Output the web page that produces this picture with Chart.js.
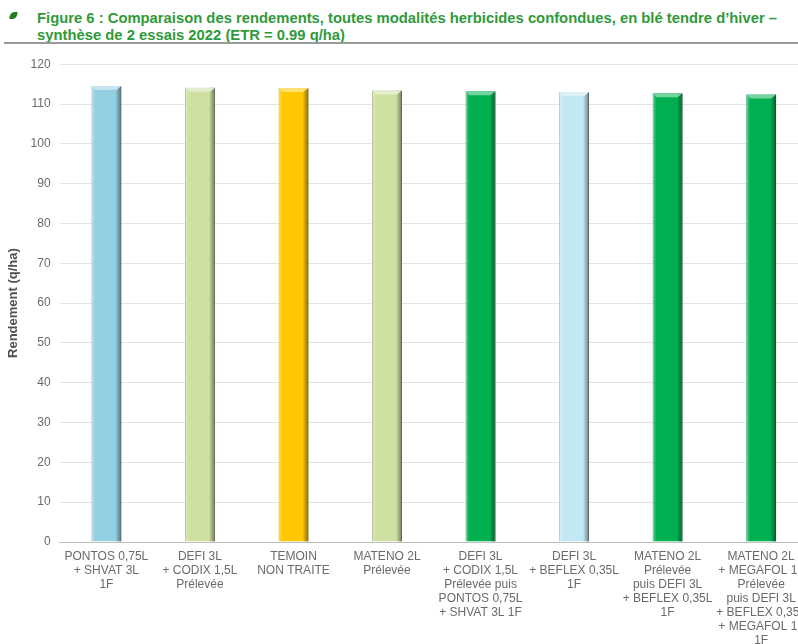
<!DOCTYPE html>
<html>
<head>
<meta charset="utf-8">
<script src="https://cdn.jsdelivr.net/npm/chart.js@4.4.1/dist/chart.umd.min.js"></script>
<style>
  html, body { margin: 0; padding: 0; background: #fff; overflow: hidden; width: 798px; height: 644px; }
  #title { position: absolute; left: 37px; top: 10px; font-family: "Liberation Sans", Arial, sans-serif; font-weight: bold; font-size: 14.8px; line-height: 16.5px; color: #2f9a3a; white-space: nowrap; }
  #icon { position: absolute; left: 10px; top: 12px; width: 7px; height: 7px; background: #1f7a2a; border-radius: 4px 1px 4px 1px; transform: skewX(-15deg); }
  #rule { position: absolute; left: 4px; top: 42px; width: 800px; height: 2px; background: #9a9a9a; }
  #wrap { position: absolute; left: 0; top: 48px; width: 814px; height: 608px; }
</style>
</head>
<body>
<div id="icon"></div>
<div id="title">Figure 6 : Comparaison des rendements, toutes modalités herbicides confondues, en blé tendre d’hiver –<br>synthèse de 2 essais 2022 (ETR = 0.99 q/ha)</div>
<div id="rule"></div>
<div id="wrap"><canvas id="c"></canvas></div>
<script>
const categories = [
  ["PONTOS 0,75L", "+ SHVAT 3L", "1F"],
  ["DEFI 3L", "+ CODIX 1,5L", "Prélevée"],
  ["TEMOIN", "NON TRAITE"],
  ["MATENO 2L", "Prélevée"],
  ["DEFI 3L", "+ CODIX 1,5L", "Prélevée puis", "PONTOS 0,75L", "+ SHVAT 3L 1F"],
  ["DEFI 3L", "+ BEFLEX 0,35L", "1F"],
  ["MATENO 2L", "Prélevée", "puis DEFI 3L", "+ BEFLEX 0,35L", "1F"],
  ["MATENO 2L", "+ MEGAFOL 1L", "Prélevée", "puis DEFI 3L", "+ BEFLEX 0,35L", "+ MEGAFOL 1L", "1F"]
];
const rendement = [114.5, 114.1, 114.0, 113.4, 113.2, 113.0, 112.7, 112.4];
const barColors = ["#93cfe2", "#cfe0a3", "#ffc800", "#cfe0a3", "#00b050", "#c2e8f3", "#00b050", "#00b050"];
const yTicks = [0, 10, 20, 30, 40, 50, 60, 70, 80, 90, 100, 110, 120];

function shade(hex, f) {
  const n = parseInt(hex.slice(1), 16);
  let r = (n >> 16) & 255, g = (n >> 8) & 255, b = n & 255;
  if (f < 0) { r = r * (1 + f); g = g * (1 + f); b = b * (1 + f); }
  else { r = r + (255 - r) * f; g = g + (255 - g) * f; b = b + (255 - b) * f; }
  return `rgb(${Math.round(r)},${Math.round(g)},${Math.round(b)})`;
}

const bevel = {
  id: 'bevel',
  afterDatasetsDraw(chart) {
    const ctx = chart.ctx;
    const meta = chart.getDatasetMeta(0);
    meta.data.forEach((bar, i) => {
      const w = bar.width, x0 = bar.x - w / 2, x1 = bar.x + w / 2, top = bar.y, bot = bar.base;
      const col = barColors[i];
      ctx.save();
      const gr = ctx.createLinearGradient(x1 - 6, 0, x1, 0);
      gr.addColorStop(0, 'rgba(0,0,0,0)');
      gr.addColorStop(1, 'rgba(0,0,0,0.45)');
      ctx.fillStyle = gr;
      ctx.fillRect(x1 - 6, top, 6, bot - top);
      const gl = ctx.createLinearGradient(x0, 0, x0 + 4, 0);
      gl.addColorStop(0, 'rgba(255,255,255,0.35)');
      gl.addColorStop(1, 'rgba(255,255,255,0)');
      ctx.fillStyle = gl;
      ctx.fillRect(x0, top, 4, bot - top);
      ctx.fillStyle = shade(col, 0.45);
      ctx.beginPath();
      ctx.moveTo(x0, top);
      ctx.lineTo(x1, top);
      ctx.lineTo(x1 - 5, top + 4);
      ctx.lineTo(x0 + 4, top + 4);
      ctx.closePath();
      ctx.fill();
      ctx.restore();
    });
  }
};

new Chart(document.getElementById('c'), {
  type: 'bar',
  data: {
    labels: categories,
    datasets: [{
      data: rendement,
      backgroundColor: barColors,
      borderColor: barColors.map(c => shade(c, -0.25)),
      borderWidth: 1,
      barPercentage: 0.32,
      categoryPercentage: 1.0
    }]
  },
  options: {
    responsive: true,
    maintainAspectRatio: false,
    animation: false,
    layout: { padding: { top: 6, right: 0, left: 6, bottom: 0 } },
    plugins: { legend: { display: false }, tooltip: { enabled: false } },
    scales: {
      x: {
        grid: { display: false, drawTicks: false },
        border: { color: '#bfbfbf' },
        ticks: {
          autoSkip: false, maxRotation: 0, minRotation: 0, padding: 8,
          color: '#6a6a6a',
          font: { family: '"Liberation Sans", Arial, sans-serif', size: 12, lineHeight: '14px' }
        }
      },
      y: {
        min: 0, max: 120,
        afterBuildTicks(axis) { axis.ticks = yTicks.map(v => ({ value: v })); },
        grid: { color: '#e3e3e3', drawTicks: false },
        border: { display: false },
        ticks: {
          padding: 9, color: '#6a6a6a',
          font: { family: '"Liberation Sans", Arial, sans-serif', size: 12 }
        },
        title: {
          display: true, text: 'Rendement (q/ha)', color: '#505050',
          font: { family: '"Liberation Sans", Arial, sans-serif', size: 13, weight: 'bold' },
          padding: { top: 0, bottom: 0 }
        }
      }
    }
  },
  plugins: [bevel]
});
</script>
</body>
</html>
